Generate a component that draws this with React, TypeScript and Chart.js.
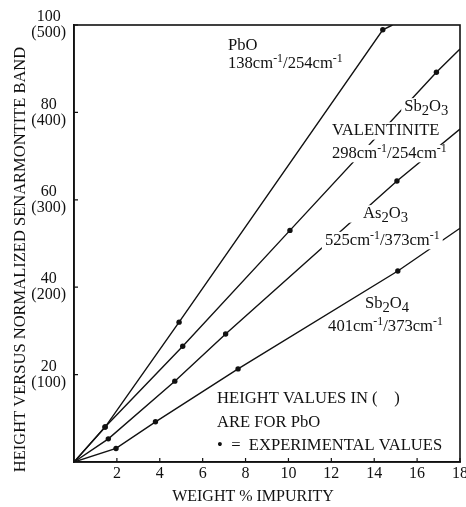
import { useEffect, useRef } from 'react';
import { Chart, registerables } from 'chart.js';

Chart.register(...registerables);

// ---- tick labels ----
const xTicks = [2, 4, 6, 8, 10, 12, 14, 16, 18];
const yTicks = [20, 40, 60, 80, 100];
const yTickLabels = ['20', '40', '60', '80', '100'];
const pboTickLabels = ['(100)', '(200)', '(300)', '(400)', '(500)'];

const xTitle = 'WEIGHT % IMPURITY';
const yTitle = 'HEIGHT VERSUS NORMALIZED SENARMONTITE BAND';

// ---- series (x = weight % impurity, y = normalized height); dot = experimental value ----
const pboX = [0, 1.45, 4.9, 14.4, 14.85];
const pboY = [0, 8, 32, 98.9, 100];
const pboDot = [0, 1, 1, 1, 0];

const sb2o3X = [0, 1.45, 5.07, 10.07, 16.9, 18];
const sb2o3Y = [0, 8, 26.5, 53, 89.2, 94.5];
const sb2o3Dot = [0, 1, 1, 1, 1, 0];

const as2o3X = [0, 1.6, 4.7, 7.07, 15.06, 18];
const as2o3Y = [0, 5.3, 18.5, 29.3, 64.3, 76.2];
const as2o3Dot = [0, 1, 1, 1, 1, 0];

const sb2o4X = [0, 1.96, 3.8, 7.65, 15.1, 18];
const sb2o4Y = [0, 3.1, 9.2, 21.3, 43.7, 53.5];
const sb2o4Dot = [0, 1, 1, 1, 1, 0];

const SERIF = '"Liberation Serif", "Times New Roman", serif';
const INK = '#111111';

type Part = [string, '' | 'sup' | 'sub'];
interface Note {
  x: number;
  y: number;
  parts: Part[];
  mask?: boolean;
  padL?: number;
}

const notes: Note[] = [
  { x: 7.18, y: 94.3, parts: [['PbO', '']] },
  { x: 7.18, y: 90.2, parts: [['138cm', ''], ['-1', 'sup'], ['/254cm', ''], ['-1', 'sup']] },
  { x: 15.4, y: 80.3, parts: [['Sb', ''], ['2', 'sub'], ['O', ''], ['3', 'sub']], mask: true },
  { x: 12.03, y: 74.8, parts: [['VALENTINITE', '']], mask: true },
  { x: 12.03, y: 69.6, parts: [['298cm', ''], ['-1', 'sup'], ['/254cm', ''], ['-1', 'sup']], mask: true },
  { x: 13.48, y: 55.8, parts: [['As', ''], ['2', 'sub'], ['O', ''], ['3', 'sub']], mask: true, padL: 16 },
  { x: 11.7, y: 49.7, parts: [['525cm', ''], ['-1', 'sup'], ['/373cm', ''], ['-1', 'sup']], mask: true },
  { x: 13.57, y: 35.2, parts: [['Sb', ''], ['2', 'sub'], ['O', ''], ['4', 'sub']] },
  { x: 11.85, y: 30.0, parts: [['401cm', ''], ['-1', 'sup'], ['/373cm', ''], ['-1', 'sup']] },
  { x: 6.67, y: 13.5, parts: [['HEIGHT VALUES IN (    )', '']] },
  { x: 6.67, y: 8.0, parts: [['ARE FOR PbO', '']] },
  { x: 6.67, y: 2.7, parts: [['\u2022  =  EXPERIMENTAL VALUES', '']] },
];

const NOTE_SIZE = 16.6;

function partFont(mode: string) {
  const s = mode === 'sup' ? NOTE_SIZE * 0.72 : mode === 'sub' ? NOTE_SIZE * 0.88 : NOTE_SIZE;
  return `${s}px ${SERIF}`;
}

function series(label: string, xs: number[], ys: number[], dots: number[]) {
  return {
    label,
    data: xs.map((x, i) => ({ x, y: ys[i] })),
    showLine: true,
    borderColor: INK,
    borderWidth: 1.4,
    pointRadius: dots.map((d) => (d ? 2.7 : 0)),
    pointBackgroundColor: INK,
    pointBorderWidth: 0,
    pointHoverRadius: 0,
    tension: 0,
    fill: false,
  };
}

const overlay = {
  id: 'overlay',
  afterDatasetsDraw(chart: any) {
    const { ctx, scales } = chart;
    const xs = scales.x;
    const ys = scales.y;
    ctx.save();
    ctx.textBaseline = 'alphabetic';
    ctx.textAlign = 'left';
    for (const n of notes) {
      const px = xs.getPixelForValue(n.x);
      const py = ys.getPixelForValue(n.y);
      let w = 0;
      for (const [t, m] of n.parts) {
        ctx.font = partFont(m);
        w += ctx.measureText(t).width;
      }
      if (n.mask) {
        ctx.fillStyle = '#ffffff';
        const pl = n.padL ?? 3;
        ctx.fillRect(px - pl, py - NOTE_SIZE * 0.78, w + pl + 3, NOTE_SIZE * 1.05);
      }
      ctx.fillStyle = INK;
      let cx = px;
      for (const [t, m] of n.parts) {
        ctx.font = partFont(m);
        const dy = m === 'sup' ? -NOTE_SIZE * 0.36 : m === 'sub' ? NOTE_SIZE * 0.25 : 0;
        ctx.fillText(t, cx, py + dy);
        cx += ctx.measureText(t).width;
      }
    }
    ctx.restore();
  },
  afterDraw(chart: any) {
    const { ctx, chartArea, scales } = chart;
    const { left, top, right, bottom } = chartArea;
    ctx.save();
    ctx.strokeStyle = INK;
    ctx.lineWidth = 1.6;
    ctx.strokeRect(left, top, right - left, bottom - top);
    ctx.lineWidth = 1.2;
    ctx.beginPath();
    for (const v of xTicks) {
      const p = scales.x.getPixelForValue(v);
      ctx.moveTo(p, bottom);
      ctx.lineTo(p, bottom - 4);
    }
    for (const v of yTicks) {
      const p = scales.y.getPixelForValue(v);
      ctx.moveTo(left, p);
      ctx.lineTo(left + 4, p);
    }
    ctx.stroke();

    // axis titles
    ctx.fillStyle = INK;
    ctx.textAlign = 'center';
    ctx.textBaseline = 'middle';
    ctx.font = `16px ${SERIF}`;
    ctx.fillText(xTitle, (left + right) / 2 - 14, bottom + 35);
    ctx.save();
    ctx.translate(left - 53, (top + bottom) / 2 + 16);
    ctx.rotate(-Math.PI / 2);
    ctx.font = `16.5px ${SERIF}`;
    ctx.fillText(yTitle, 0, 0);
    ctx.restore();
    ctx.restore();
  },
};

export default function App() {
  const ref = useRef<HTMLCanvasElement | null>(null);

  useEffect(() => {
    if (!ref.current) return;
    const chart = new Chart(ref.current, {
      type: 'scatter',
      data: {
        datasets: [
          series('PbO', pboX, pboY, pboDot),
          series('Sb2O3', sb2o3X, sb2o3Y, sb2o3Dot),
          series('As2O3', as2o3X, as2o3Y, as2o3Dot),
          series('Sb2O4', sb2o4X, sb2o4Y, sb2o4Dot),
        ] as any,
      },
      options: {
        responsive: false,
        animation: false,
        events: [],
        layout: { padding: { top: 25, right: 6, left: 0, bottom: 0 } },
        plugins: {
          legend: { display: false },
          tooltip: { enabled: false },
        },
        scales: {
          x: {
            type: 'linear',
            min: 0,
            max: 18,
            grid: { display: false, drawTicks: false },
            border: { display: true, color: INK, width: 1.6 },
            afterBuildTicks: (axis: any) => {
              axis.ticks = xTicks.map((value) => ({ value }));
            },
            afterFit: (scale: any) => {
              scale.height = 45;
              scale.paddingLeft = 0;
              scale.paddingRight = 0;
            },
            ticks: {
              color: INK,
              padding: 2,
              maxRotation: 0,
              autoSkip: false,
              font: { family: SERIF, size: 16 },
              callback: (v: any) => String(v),
            },
            title: { display: false },
          },
          y: {
            type: 'linear',
            min: 0,
            max: 100,
            grid: { display: false, drawTicks: false },
            border: { display: true, color: INK, width: 1.6 },
            afterBuildTicks: (axis: any) => {
              axis.ticks = yTicks.map((value) => ({ value }));
            },
            afterFit: (scale: any) => {
              scale.width = 74;
              scale.paddingTop = 0;
              scale.paddingBottom = 0;
            },
            ticks: {
              color: INK,
              padding: 8,
              crossAlign: 'center',
              autoSkip: false,
              font: { family: SERIF, size: 16, lineHeight: 1.0 },
              callback: (_v: any, i: number) => [yTickLabels[i], pboTickLabels[i]],
            },
            title: { display: false },
          },
        },
      } as any,
      plugins: [overlay],
    });
    return () => chart.destroy();
  }, []);

  return (
    <div style={{ position: 'absolute', left: 0, top: 0, width: 466, height: 507, background: '#fff' }}>
      <canvas ref={ref} width={466} height={507} />
    </div>
  );
}
